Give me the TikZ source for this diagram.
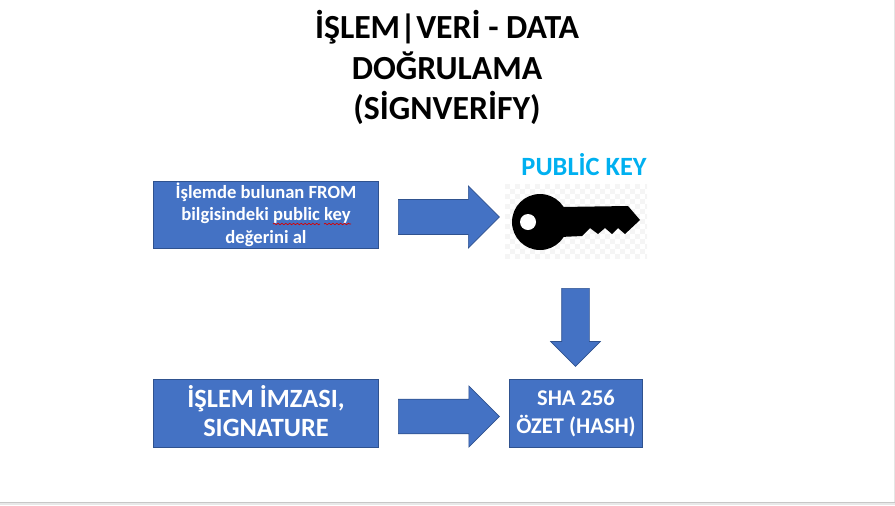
\documentclass[tikz,border=0pt]{standalone}
\usepackage{fontspec}
\setmainfont{Carlito}
\usetikzlibrary{positioning}
\usetikzlibrary{shapes.arrows}
\usetikzlibrary{decorations.pathmorphing}
\definecolor{boxblue}{HTML}{4472C4}
\definecolor{boxline}{HTML}{2F528F}
\definecolor{keyblue}{HTML}{00B0F0}
\tikzset{
  bluebox/.style={rectangle,draw=boxline,fill=boxblue,line width=0.5pt,text=white,align=center,inner sep=0pt,font=\bfseries},
  bluearrow/.style={single arrow,draw=boxline,fill=boxblue,line width=0.4pt,anchor=tail,text height=0pt,text depth=0pt},
  spellmark/.style={draw=red!85!black,line width=0.4pt,decorate,decoration={snake,amplitude=0.4pt,segment length=2.2pt}}
}
\begin{document}
\begin{tikzpicture}[x=0.02cm,y=-0.02cm]
\useasboundingbox (0,0) rectangle (895,505);
% window edge
\fill[black!9] (0,502) rectangle (895,505);
\draw[black!22,line width=0.5pt] (0,502) -- (895,502);
\draw[black!10,line width=0.4pt] (894,0) -- (894,502);

\node[font=\fontsize{19.2}{22.9}\selectfont\bfseries,align=center,text=black] (title) at (447,67.5) {İŞLEM|VERİ - DATA\\DOĞRULAMA\\(SİGNVERİFY)};

% key picture with its checkered background
\begin{scope}
\clip (505,184) rectangle (647,259);
\foreach \i in {0,...,28}{
  \foreach \j in {0,...,14}{
    \pgfmathparse{int(mod(\i+\j,2))}
    \ifnum\pgfmathresult=0
      \fill[black!4] (505+5*\i,184+5*\j) rectangle ++(5,5);
    \fi
  }
}
\end{scope}
\fill[black] (540,222) circle (28);
\fill[black] (560,207) -- (628,206) -- (640,220) -- (625,234) -- (618,228) -- (612,234) -- (605,228) -- (598,234) -- (590,228) -- (582,236) -- (560,237) -- cycle;
\fill[white] (528,222) circle (8);
\node[font=\fontsize{15}{18}\selectfont\bfseries,text=keyblue,anchor=center] (keylabel) at (584,165) {PUBLİC KEY};

\node[bluebox,minimum width=225.5*0.02cm,minimum height=67*0.02cm,font=\fontsize{10.6}{12.8}\selectfont\bfseries] (from) at (266,214.5) {İşlemde bulunan FROM\\bilgisindeki public key\\değerini al};
\draw[spellmark] (273,224) -- (320,224);
\draw[spellmark] (324,224) -- (351,224);
\node[bluebox,minimum width=225.5*0.02cm,minimum height=68*0.02cm,font=\fontsize{15}{17}\selectfont\bfseries] (signature) at (266,413) {\raisebox{2pt}{\shortstack{İŞLEM İMZASI,\\[1pt]SIGNATURE}}};
\node[bluebox,minimum width=133.5*0.02cm,minimum height=68*0.02cm,font=\fontsize{12.8}{16.2}\selectfont\bfseries] (hash) at (576,413.5) {SHA 256\\ÖZET (HASH)};

\node[bluearrow,inner xsep=0pt,inner ysep=16*0.02cm,minimum height=101*0.02cm,minimum width=62*0.02cm] (arrowtop) at (398,217) {};
\node[bluearrow,inner xsep=0pt,inner ysep=16*0.02cm,minimum height=101*0.02cm,minimum width=61*0.02cm] (arrowbottom) at (398,416.5) {};
\node[bluearrow,inner ysep=0pt,inner xsep=13.5*0.02cm,shape border rotate=270,single arrow head extend=11*0.02cm,minimum height=78*0.02cm,minimum width=49*0.02cm] (arrowdown) at (575.5,288) {};
\end{tikzpicture}
\end{document}
